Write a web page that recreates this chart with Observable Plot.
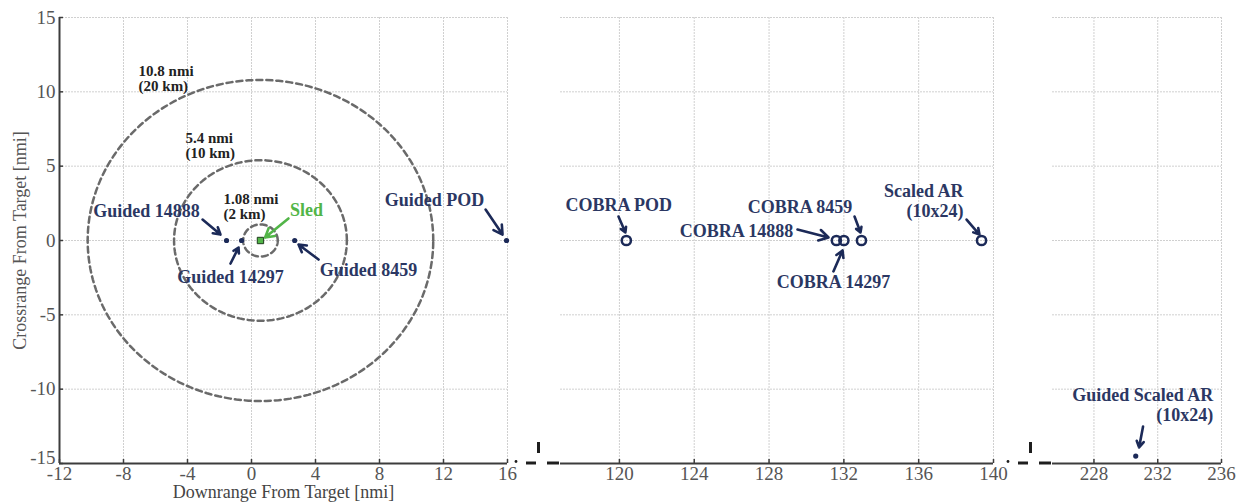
<!DOCTYPE html>
<html><head><meta charset="utf-8">
<script src="https://cdn.jsdelivr.net/npm/d3@7"></script>
<script src="https://cdn.jsdelivr.net/npm/@observablehq/plot@0.6"></script>
<style>
html,body{margin:0;padding:0;background:#fff;}
#chart{position:relative;width:1242px;height:503px;overflow:hidden;}
#chart svg{position:absolute;top:0;overflow:visible;}
</style></head><body><div id="chart"></div>
<script>
// ---- panels (broken x axis) ----
const panelStart = [-12, 116.85, 225.4];
const panelEnd = [16, 140, 236];
const panelTicks = [[-12, -8, -4, 0, 4, 8, 12, 16], [120, 124, 128, 132, 136, 140], [228, 232, 236]];
const yTicks = [-15, -10, -5, 0, 5, 10, 15];
const xTitle = "Downrange From Target [nmi]";
const yTitle = "Crossrange From Target [nmi]";
// layout of the three panel svgs: [svg left, svg width, marginLeft, marginRight]
const panelBox = [[0, 530, 59, 23], [505, 505, 55, 17], [1000, 242, 52, 21]];

// ---- impact points ----
const guidedNames = ["Guided 14888", "Guided 14297", "Guided 8459", "Guided POD", "Guided Scaled AR"];
const guidedX = [-1.56, -0.62, 2.7, 15.94, 230.62];
const guidedY = [0, 0, 0, 0, -14.5];
const cobraNames = ["COBRA POD", "COBRA 14888", "COBRA 14297", "COBRA 8459", "Scaled AR"];
const cobraX = [120.37, 131.6, 132.0, 132.94, 139.36];
const cobraY = [0, 0, 0, 0, 0];
const sledX = [0.56];
const sledY = [0];

// ---- range rings around sled ----
const ringRadii = [10.8, 5.4, 1.08];
const ringLabels = ["10.8 nmi\n(20 km)", "5.4 nmi\n(10 km)", "1.08 nmi\n(2 km)"];
const ringLabelX = [-7.06, -4.13, -1.75];
const ringLabelY = [10.86, 6.39, 2.25];

// ---- annotations ----
const noteText = ["Guided 14888", "Guided 14297", "Guided 8459", "Guided POD", "Sled",
  "COBRA POD", "COBRA 14888", "COBRA 14297", "COBRA 8459", "Scaled AR\n(10x24)", "Guided Scaled AR\n(10x24)"];
const noteX = [-6.56, -1.31, 7.31, 11.44, 3.44, 119.97, 129.3, 131.44, 129.65, 138.4, 235.48];
const noteY = [2.02, -2.42, -1.95, 2.76, 2.08, 2.42, 0.67, -2.76, 2.29, 2.69, -11.03];
const noteAnchor = ["middle", "middle", "middle", "middle", "middle", "middle", "end", "middle", "middle", "end", "end"];
const noteColor = ["navy", "navy", "navy", "navy", "green", "navy", "navy", "navy", "navy", "navy", "navy"];
const arrowX1 = [-3.06, -1.31, 4.19, 14.63, 2.31, 119.95, 129.52, 131.44, 132.57, 138.56, 231.08];
const arrowY1 = [1.41, -1.55, -1.28, 2.08, 1.48, 1.61, 0.74, -2.08, 1.61, 1.41, -12.51];
const arrowX2 = [-1.94, -0.81, 2.94, 15.69, 0.85, 120.32, 131.18, 131.93, 132.89, 139.25, 230.83];
const arrowY2 = [0.40, -0.47, -0.27, 0.40, 0.2, 0.54, 0.2, -0.67, 0.54, 0.40, -13.92];

const NAVY = "#1c2a58", TEXTNAVY = "#2b3763", GREEN = "#52b548", GRID = "#d0d0d0", AXIS = "#3c3c3c", TICKTXT = "#555";

// ---- tables built from arrays ----
const guided = guidedNames.map((n, i) => ({name: n, x: guidedX[i], y: guidedY[i]}));
const cobra = cobraNames.map((n, i) => ({name: n, x: cobraX[i], y: cobraY[i]}));
const sled = sledX.map((x, i) => ({x, y: sledY[i]}));
const rings = ringRadii.flatMap(r => d3.range(0, 361, 2).map(a => ({
  r, x: sledX[0] + r * Math.cos(a * Math.PI / 180), y: sledY[0] + r * Math.sin(a * Math.PI / 180)})));
const ringLab = ringLabels.map((t, i) => ({t, x: ringLabelX[i], y: ringLabelY[i]}));
const notes = noteText.map((t, i) => ({t, x: noteX[i], y: noteY[i], anchor: noteAnchor[i], color: noteColor[i] === "green" ? GREEN : TEXTNAVY}));
const arrows = arrowX1.map((x1, i) => ({x1, y1: arrowY1[i], x2: arrowX2[i], y2: arrowY2[i], color: noteColor[i] === "green" ? GREEN : NAVY}));

const chart = document.getElementById("chart");

panelStart.forEach((x0, p) => {
  const x1 = panelEnd[p];
  const inP = d => d.x >= x0 - 1e-9 && d.x <= x1 + 1e-9;
  const [left, width, mL, mR] = panelBox[p];
  const first = p === 0;
  const marks = [
    // grid
    Plot.ruleX(panelTicks[p].filter(t => t !== x0), {x: d => d, y1: -15, y2: 15, stroke: GRID, strokeWidth: 1, strokeDasharray: "2,1"}),
    Plot.ruleY(yTicks.filter(y => y > -15), {y: d => d, x1: x0, x2: x1, stroke: GRID, strokeWidth: 1, strokeDasharray: "2,1"}),
    // axis line + inward ticks + labels
    Plot.ruleY([-15], {y: d => d, x1: x0, x2: x1, stroke: AXIS, strokeWidth: 2}),
    Plot.ruleX(panelTicks[p], {x: d => d, y1: -15, y2: -15, insetTop: -4, stroke: AXIS, strokeWidth: 1.5}),
    Plot.axisX({ticks: panelTicks[p], tickSize: 0, tickPadding: 3, tickFormat: d => String(d), fill: TICKTXT, fontSize: 19, label: null}),
  ];
  if (first) {
    marks.push(
      Plot.ruleX([x0], {x: d => d, y1: -15, y2: 15, stroke: AXIS, strokeWidth: 2}),
      Plot.ruleY(yTicks, {y: d => d, x1: x0, x2: x0, insetRight: -4, stroke: AXIS, strokeWidth: 1.5}),
      Plot.axisY({ticks: yTicks.filter(t => t > -15), tickSize: 0, tickPadding: 4, tickFormat: d => String(d), fill: TICKTXT, fontSize: 19, label: null}),
      Plot.axisY({ticks: yTicks.filter(t => t === -15), tickSize: 0, tickPadding: 4, dy: -6, tickFormat: d => String(d), fill: TICKTXT, fontSize: 19, label: null}),
      Plot.text([xTitle], {x: (x0 + x1) / 2, y: -15, dy: 29, text: d => d, fill: "#444", fontSize: 18}),
      Plot.text([yTitle], {x: x0, y: 0, dx: -39, rotate: -90, text: d => d, fill: "#555", fontSize: 18}),
      Plot.line(rings, {x: "x", y: "y", z: "r", stroke: "#6a6a6a", strokeWidth: 2.5, strokeDasharray: "6,4"}),
      Plot.text(ringLab, {x: "x", y: "y", text: "t", textAnchor: "start", fill: "#222", fontSize: 15, fontWeight: "bold", lineHeight: 1.0})
    );
  }
  const pn = notes.filter(inP);
  marks.push(
    Plot.dot(guided.filter(inP), {x: "x", y: "y", r: 2.6, fill: NAVY}),
    Plot.dot(cobra.filter(inP), {x: "x", y: "y", r: 4.6, stroke: NAVY, strokeWidth: 2.5, fill: "none"}),
    Plot.dot(sled.filter(inP), {x: "x", y: "y", symbol: "square", r: 3.6, fill: GREEN, stroke: "#1d3b1a", strokeWidth: 1}),
    Plot.arrow(arrows.filter(d => d.x2 >= x0 && d.x2 <= x1), {x1: "x1", y1: "y1", x2: "x2", y2: "y2", stroke: "color", strokeWidth: 2.6, headLength: 8, headAngle: 60}),
    Plot.text(pn.filter(d => d.anchor === "middle"), {x: "x", y: "y", text: "t", textAnchor: "middle", fill: "color", fontSize: 18, lineHeight: 1.15, fontWeight: "bold"}),
    Plot.text(pn.filter(d => d.anchor === "end"), {x: "x", y: "y", text: "t", textAnchor: "end", fill: "color", fontSize: 18, lineHeight: 1.15, fontWeight: "bold"})
  );
  const plot = Plot.plot({
    width, height: 503,
    marginLeft: mL, marginRight: mR, marginTop: 17, marginBottom: 40,
    style: {fontFamily: "Liberation Serif", fontSize: "19px", background: "transparent", overflow: "visible"},
    x: {domain: [x0, x1], axis: null},
    y: {domain: [-15, 15], axis: null},
    marks
  });
  plot.style.left = left + "px";
  chart.appendChild(plot);
  // axis break glyph just before the start of the later panels
  if (!first) {
    const s = plot.scale("x").apply(x0), yAx = plot.scale("y").apply(-15);
    const g = d3.select(plot).append("g").attr("stroke", "#1e1e1e").attr("fill", "#1e1e1e");
    g.append("circle").attr("cx", s - 44).attr("cy", yAx - 1.5).attr("r", 1.4).attr("stroke", "none");
    g.append("line").attr("x1", s - 34).attr("x2", s - 24).attr("y1", yAx).attr("y2", yAx).attr("stroke-width", 3);
    g.append("line").attr("x1", s - 21.5).attr("x2", s - 21.5).attr("y1", yAx - 21).attr("y2", yAx - 10).attr("stroke-width", 3);
    g.append("line").attr("x1", s - 13).attr("x2", s - 1).attr("y1", yAx).attr("y2", yAx).attr("stroke-width", 3);
  }
});
</script></body></html>
